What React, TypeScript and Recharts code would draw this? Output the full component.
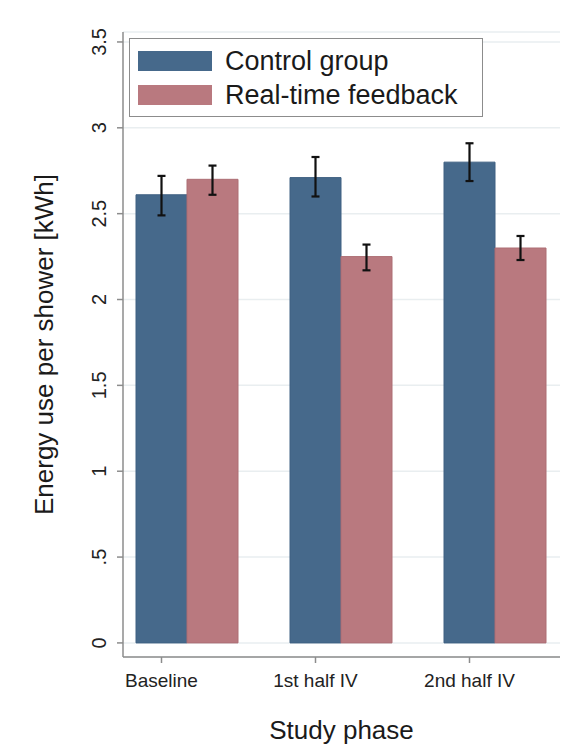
import { BarChart, Bar, XAxis, YAxis, CartesianGrid, ErrorBar, Legend } from 'recharts';

const phases = ['Baseline', '1st half IV', '2nd half IV'];

// mean energy use per shower [kWh] and the ends of the error bars
const controlMean = [2.61, 2.71, 2.80];
const controlLow = [2.49, 2.60, 2.69];
const controlHigh = [2.72, 2.83, 2.91];

const feedbackMean = [2.70, 2.25, 2.30];
const feedbackLow = [2.61, 2.17, 2.23];
const feedbackHigh = [2.78, 2.32, 2.37];

const yTicks = [0, 0.5, 1, 1.5, 2, 2.5, 3, 3.5];
const yTickLabels = ['0', '.5', '1', '1.5', '2', '2.5', '3', '3.5'];

const data = phases.map((phase, i) => ({
  phase,
  control: controlMean[i],
  controlErr: [controlMean[i] - controlLow[i], controlHigh[i] - controlMean[i]],
  feedback: feedbackMean[i],
  feedbackErr: [feedbackMean[i] - feedbackLow[i], feedbackHigh[i] - feedbackMean[i]],
}));

const BLUE = '#46698b';
const PINK = '#b9797f';
const AXIS = '#8c8c8c';
const FONT = '"Liberation Sans", Arial, sans-serif';
const BAR_SIZE = 51;
const TICK_SIZE = 6;
const TICK_MARGIN = 11;

// Stata puts the category tick under the first bar of each group
const XTick = (props: any) => {
  const { x, y, payload } = props;
  const tx = x - BAR_SIZE / 2;
  return (
    <g>
      <line x1={tx} x2={tx} y1={y - TICK_MARGIN - TICK_SIZE} y2={y - TICK_MARGIN} stroke={AXIS} strokeWidth={1.5} />
      <text x={tx} y={y} dy="0.71em" textAnchor="middle" fontSize={19} fill="#222" fontFamily={FONT}>
        {payload.value}
      </text>
    </g>
  );
};

const YTick = (props: any) => {
  const { x, y, payload } = props;
  const idx = yTicks.indexOf(payload.value);
  return (
    <text
      x={x}
      y={y}
      transform={`rotate(-90, ${x}, ${y})`}
      textAnchor="middle"
      fontSize={20}
      fill="#222"
      fontFamily={FONT}
    >
      {idx >= 0 ? yTickLabels[idx] : payload.value}
    </text>
  );
};

const YTitle = (props: any) => {
  const { viewBox } = props;
  const cy = viewBox.y + viewBox.height / 2;
  return (
    <text
      x={53}
      y={cy}
      transform={`rotate(-90, 53, ${cy})`}
      textAnchor="middle"
      fontSize={26}
      fill="#1a1a1a"
      fontFamily={FONT}
    >
      Energy use per shower [kWh]
    </text>
  );
};

const legendItems = [
  { name: 'Control group', color: BLUE },
  { name: 'Real-time feedback', color: PINK },
];

const LegendBox = () => (
  <div
    style={{
      width: 354,
      height: 79,
      boxSizing: 'border-box',
      border: `1.5px solid ${AXIS}`,
      background: '#fff',
      padding: '12px 0 0 8px',
      fontFamily: FONT,
    }}
  >
    {legendItems.map((item, i) => (
      <div key={item.name} style={{ display: 'flex', alignItems: 'center', height: 20, marginTop: i === 0 ? 0 : 14 }}>
        <div style={{ width: 74, height: 20, background: item.color, flexShrink: 0 }} />
        <span style={{ marginLeft: 13, fontSize: 27, color: '#1a1a1a', lineHeight: '20px', whiteSpace: 'nowrap' }}>
          {item.name}
        </span>
      </div>
    ))}
  </div>
);

export default function App() {
  return (
    <div style={{ width: 571, height: 745, background: '#fff' }}>
      <style>{`body { margin: 0; }`}</style>
      <BarChart
        width={571}
        height={745}
        data={data}
        margin={{ top: 32, right: 11, left: 0, bottom: 0 }}
        barGap={0}
        barSize={BAR_SIZE}
      >
        <CartesianGrid vertical={false} stroke="#e9eef0" strokeWidth={1.5} />
        <XAxis
          dataKey="phase"
          height={88}
          padding={{ left: -13, right: -12 }}
          axisLine={{ stroke: AXIS, strokeWidth: 1.5 }}
          tickLine={false}
          tickSize={TICK_SIZE}
          tickMargin={TICK_MARGIN}
          tick={<XTick />}
          interval={0}
          label={{ value: 'Study phase', position: 'insideBottom', offset: 6, fontSize: 26, fill: '#1a1a1a', fontFamily: FONT }}
        />
        <YAxis
          width={123}
          type="number"
          domain={[-0.082, 3.558]}
          ticks={yTicks}
          interval={0}
          axisLine={{ stroke: AXIS, strokeWidth: 1.5 }}
          tickLine={{ stroke: AXIS, strokeWidth: 1.5 }}
          tickSize={TICK_SIZE}
          tickMargin={TICK_MARGIN}
          tick={<YTick />}
          label={<YTitle />}
        />
        <Legend
          layout="vertical"
          align="center"
          verticalAlign="middle"
          wrapperStyle={{ left: 129, top: 38, width: 354 }}
          content={() => <LegendBox />}
        />
        <Bar dataKey="control" name="Control group" fill={BLUE} stroke="#3f6082" strokeWidth={1} isAnimationActive={false}>
          <ErrorBar dataKey="controlErr" width={4} stroke="#111" strokeWidth={2.2} direction="y" />
        </Bar>
        <Bar dataKey="feedback" name="Real-time feedback" fill={PINK} stroke="#ad6f75" strokeWidth={1} isAnimationActive={false}>
          <ErrorBar dataKey="feedbackErr" width={4} stroke="#111" strokeWidth={2.2} direction="y" />
        </Bar>
      </BarChart>
    </div>
  );
}
